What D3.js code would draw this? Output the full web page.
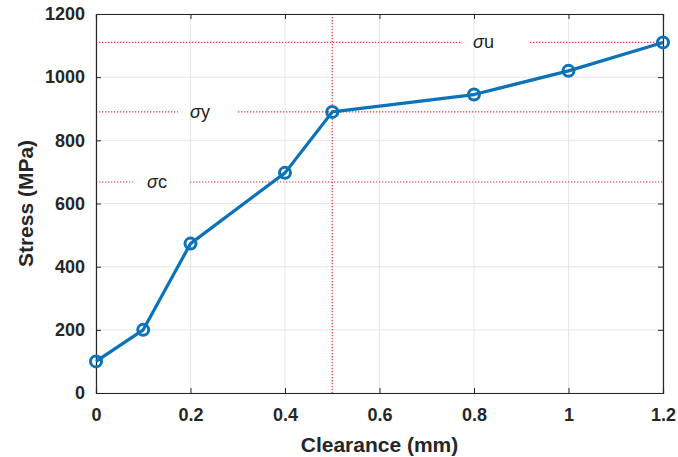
<!DOCTYPE html>
<html>
<head>
<meta charset="utf-8">
<script src="https://cdn.jsdelivr.net/npm/d3@7"></script>
<style>
  body { margin: 0; background: #fff; }
  text { font-family: "Liberation Sans", Arial, sans-serif; }
</style>
</head>
<body>
<svg></svg>
<script>
// Data
const clearance = [0, 0.1, 0.2, 0.4, 0.5, 0.8, 1.0, 1.2];
const stress = [100, 200, 473, 697, 890, 945, 1020, 1110];
const xTicks = [0, 0.2, 0.4, 0.6, 0.8, 1, 1.2];
const yTicks = [0, 200, 400, 600, 800, 1000, 1200];
// reference levels: label, stress value, label x (in clearance units)
const refNames = ['σc', 'σy', 'σu'];
const refValues = [668, 890, 1110];
const refLabelX = [0.108, 0.199, 0.798];
const vLineX = 0.5;

const width = 678, height = 457;
const margin = {left: 96, right: 15, top: 14, bottom: 64};

const svg = d3.select('svg')
    .attr('width', width)
    .attr('height', height);

const x = d3.scaleLinear().domain([0, 1.2]).range([margin.left, width - margin.right]);
const y = d3.scaleLinear().domain([0, 1200]).range([height - margin.bottom, margin.top]);

const axisColor = '#262626';
const red = '#f0303a';

// Grid lines
const grid = svg.append('g');
grid.selectAll('.gx').data(xTicks).enter().append('line')
    .attr('x1', d => x(d)).attr('x2', d => x(d))
    .attr('y1', y(0)).attr('y2', y(1200))
    .attr('stroke', '#e6e6e6').attr('stroke-width', 1);
grid.selectAll('.gy').data(yTicks).enter().append('line')
    .attr('x1', x(0)).attr('x2', x(1.2))
    .attr('y1', d => y(d)).attr('y2', d => y(d))
    .attr('stroke', '#e6e6e6').attr('stroke-width', 1);

// Red dotted reference lines, with gaps around the labels
const refs = refNames.map((name, i) => ({name: name, value: refValues[i], lx: refLabelX[i]}));
const resumeOffset = [43, 48, 57];   // px from label start to where the line resumes
const refGroup = svg.append('g');
refs.forEach((r, i) => {
    const cx = x(r.lx);
    const segs = [[x(0), cx - 12], [cx + resumeOffset[i], x(1.2)]];
    segs.forEach(s => {
        refGroup.append('line')
            .attr('x1', s[0]).attr('x2', s[1])
            .attr('y1', y(r.value)).attr('y2', y(r.value))
            .attr('stroke', red)
            .attr('stroke-width', 1.2)
            .attr('stroke-dasharray', '1.3,1.7');
    });
    const t = refGroup.append('text')
        .attr('x', cx)
        .attr('y', y(r.value) + 6)
        .style('font-size', '18px')
        .attr('fill', '#222');
    t.append('tspan').style('font-style', 'italic').text(r.name[0]);
    t.append('tspan').text(r.name.slice(1));
});
refGroup.append('line')
    .attr('x1', x(vLineX)).attr('x2', x(vLineX))
    .attr('y1', y(1200)).attr('y2', y(0))
    .attr('stroke', red)
    .attr('stroke-width', 1.2)
    .attr('stroke-dasharray', '1.3,1.7');

// Axes (box with inward ticks)
const xAxis = d3.axisBottom(x).tickValues(xTicks).tickSize(-5).tickPadding(15)
    .tickFormat(d => String(+d.toFixed(1)));
const yAxis = d3.axisLeft(y).tickValues(yTicks).tickSize(-5).tickPadding(11)
    .tickFormat(d3.format('d'));

svg.append('g').attr('transform', `translate(0,${y(0)})`).call(xAxis);
svg.append('g').attr('transform', `translate(${x(0)},0)`).call(yAxis);
svg.append('g').attr('transform', `translate(0,${y(1200)})`)
    .call(d3.axisTop(x).tickValues(xTicks).tickSize(-5).tickFormat(''));
svg.append('g').attr('transform', `translate(${x(1.2)},0)`)
    .call(d3.axisRight(y).tickValues(yTicks).tickSize(-5).tickFormat(''));

svg.selectAll('.domain').attr('stroke', axisColor).attr('stroke-width', 1.2);
svg.selectAll('.tick line').attr('stroke', axisColor);
svg.selectAll('.tick text')
    .attr('fill', '#262626')
    .style('font-size', '18px')
    .style('font-weight', 'bold')
    .style('font-family', '"Liberation Sans", Arial, sans-serif');

// Axis titles
svg.append('text')
    .attr('x', (x(0) + x(1.2)) / 2)
    .attr('y', 452)
    .attr('text-anchor', 'middle')
    .style('font-size', '21px')
    .style('font-weight', 'bold')
    .attr('fill', '#262626')
    .text('Clearance (mm)');
svg.append('text')
    .attr('transform', `translate(33,${(y(0) + y(1200)) / 2}) rotate(-90)`)
    .attr('text-anchor', 'middle')
    .style('font-size', '21px')
    .style('font-weight', 'bold')
    .attr('fill', '#262626')
    .text('Stress (MPa)');

// Data line and markers
const pts = clearance.map((c, i) => ({c: c, s: stress[i]}));
svg.append('path')
    .datum(pts)
    .attr('d', d3.line().x(d => x(d.c)).y(d => y(d.s)))
    .attr('fill', 'none')
    .attr('stroke', '#0a72b8')
    .attr('stroke-width', 3.2)
    .attr('stroke-linejoin', 'round');
svg.selectAll('.pt').data(pts).enter().append('circle')
    .attr('cx', d => x(d.c))
    .attr('cy', d => y(d.s))
    .attr('r', 5.5)
    .attr('fill', 'none')
    .attr('stroke', '#0a72b8')
    .attr('stroke-width', 3);
</script>
</body>
</html>
